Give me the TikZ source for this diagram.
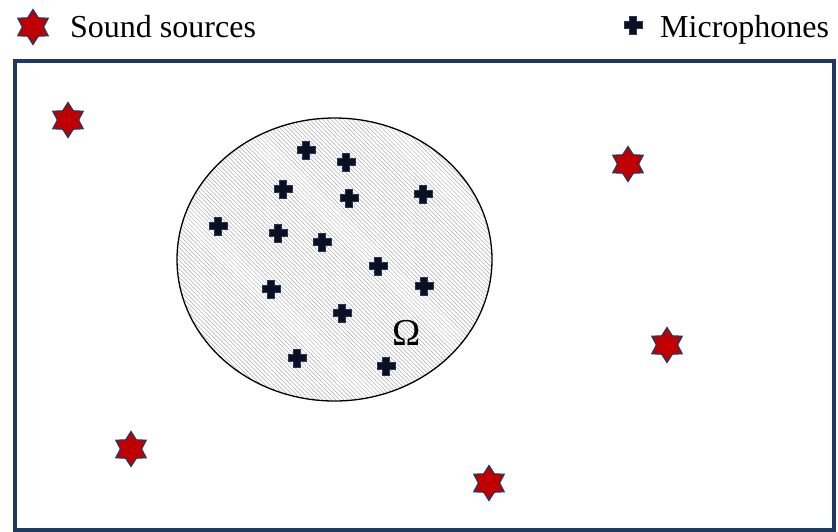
\documentclass[tikz,border=0pt]{standalone}
\usepackage{fontspec}
\setmainfont{Liberation Serif}
\usetikzlibrary{shapes.geometric,patterns.meta}
\definecolor{navy}{HTML}{1F3864}
\definecolor{srcred}{HTML}{C00000}
\definecolor{micfill}{HTML}{0B1020}
\tikzset{
  source/.style={star, star points=6, star point ratio=1.65, minimum size=35pt,
    inner sep=0pt, fill=srcred, draw=navy, line width=1.2pt},
  frame/.style={draw=navy, line width=4pt},
  region/.style={draw=black, line width=1.3pt,
    pattern={Lines[angle=-45, distance=3pt, line width=0.5pt]}, pattern color=gray!65},
  label/.style={inner sep=0pt, anchor=base west, font=\fontsize{32}{38}\selectfont},
  mic/.pic={
    \path[fill=micfill, draw=navy, line width=0.9pt]
      (-3.2,-9) -- (3.2,-9) -- (3.2,-3.2) -- (9,-3.2) -- (9,3.2) -- (3.2,3.2)
      -- (3.2,9) -- (-3.2,9) -- (-3.2,3.2) -- (-9,3.2) -- (-9,-3.2) -- (-3.2,-3.2) -- cycle;
  }
}
\begin{document}
\begin{tikzpicture}[x=1pt,y=-1pt]
\useasboundingbox (0,0) rectangle (838,531);

% legend
\node[source] (legsrc) at (33,27) {};
\node[label] (legsrctxt) at (70,37) {Sound sources};
\pic (legmic) at (633,25) {mic};
\node[label] (legmictxt) at (660,37) {Microphones};

% domain boundary
\draw[frame] (15,60.5) rectangle (834,529.5);

% region Omega
\path[region] (334.5,259.5) ellipse [x radius=157.5, y radius=141.5];
\node[inner sep=0pt, font=\fontsize{38}{44}\selectfont] (omega) at (407,333) {Ω};

% microphones
\foreach \x/\y [count=\i] in {306/150, 346/162, 283/189, 349/198, 423/194, 218/226,
    278/233, 322/242, 378/266, 271/289, 424/286, 342/313, 297/358, 386/366}
  \pic (mic\i) at (\x,\y) {mic};

% sound sources
\node[source] (src1) at (68,120) {};
\node[source] (src2) at (628,164) {};
\node[source] (src3) at (667,345) {};
\node[source] (src4) at (131,449) {};
\node[source] (src5) at (489,483) {};
\end{tikzpicture}
\end{document}
